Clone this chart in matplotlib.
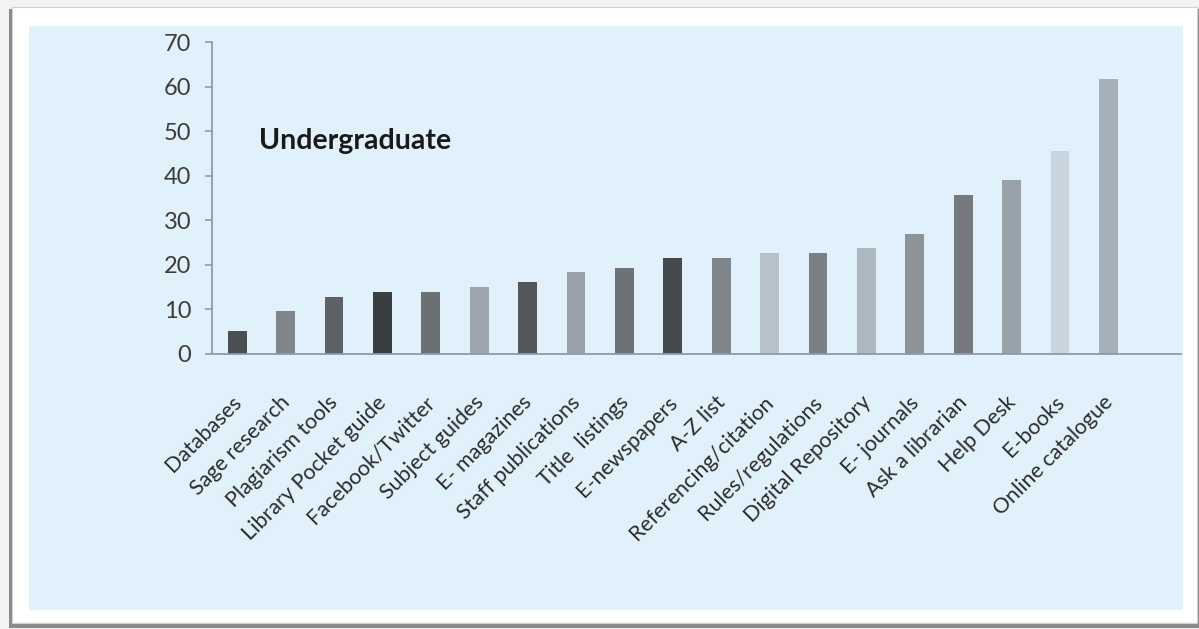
import numpy as np
import matplotlib
matplotlib.use("Agg")
from matplotlib import pyplot as plt
from matplotlib.patches import Rectangle
from matplotlib.transforms import ScaledTranslation

# services and the share of undergraduates using them
categories = ['Databases', 'Sage research', 'Plagiarism tools', 'Library Pocket guide',
              'Facebook/Twitter', 'Subject guides', 'E- magazines', 'Staff publications',
              'Title  listings', 'E-newspapers', 'A-Z list', 'Referencing/citation',
              'Rules/regulations', 'Digital Repository', 'E- journals', 'Ask a librarian',
              'Help Desk', 'E-books', 'Online catalogue']
values = [5.2, 9.7, 12.8, 13.9, 13.9, 15.0, 16.2, 18.5, 19.3, 21.6,
          21.6, 22.7, 22.7, 23.8, 26.9, 35.7, 39.1, 45.7, 61.8]
bar_colors = ['#4b4f52', '#7e858b', '#5e6165', '#3b3e41', '#6c7073', '#9ca5ad',
              '#53575b', '#98a1a9', '#6e7276', '#464a4d', '#7e858b', '#b7c1ca',
              '#7b8087', '#adb7c0', '#8c949a', '#767a7e', '#99a2a9', '#c8d5df', '#a5afb8']
y_ticks = [0, 10, 20, 30, 40, 50, 60, 70]

plt.rcParams['font.family'] = ['Lato', 'DejaVu Sans']

W, H = 1199, 629
fig = plt.figure(figsize=(W / 100, H / 100), dpi=100)
fig.patch.set_facecolor('#f3f3f3')

def px_rect(x0, y0, x1, y1, **kw):
    # rectangle given in pixel coords from the top-left corner
    return Rectangle((x0 / W, 1 - y1 / H), (x1 - x0) / W, (y1 - y0) / H,
                     transform=fig.transFigure, **kw)

# card with a drop shadow, then the light blue chart area (behind the axes)
fig.patches.append(px_rect(9, 9, 1199, 628, facecolor='#8a8a8a', edgecolor='none', zorder=-3))
fig.patches.append(px_rect(12, 7, 1197, 623, facecolor='white', edgecolor='#d0d0d0',
                           linewidth=0.8, zorder=-2))
fig.patches.append(px_rect(29, 26, 1183, 610, facecolor='#e1f1fc', edgecolor='none', zorder=-1))

ax = fig.add_axes([212 / W, 1 - 354 / H, (1181 - 212) / W, (354 - 42.3) / H])
ax.set_facecolor('none')

x = np.arange(len(categories))
ax.bar(x, values, width=0.39, color=bar_colors, edgecolor='none', zorder=2)

ax.set_xlim(-0.52, 19.5)
ax.set_ylim(0, 70)
ax.set_yticks(y_ticks)
ax.set_xticks(x)
ax.set_xticklabels(categories, rotation=45, ha='right', rotation_mode='anchor',
                   fontsize=15.5, color='#2b2b2b')
ax.tick_params(axis='x', length=0, pad=24)
ax.tick_params(axis='y', length=5, width=1.2, color='#8d9ba6', pad=10,
               labelsize=17, labelcolor='#3c3c3c')

# nudge the slanted labels so their ends sit under the bars
shift = ScaledTranslation(-6 / 100, -5 / 100, fig.dpi_scale_trans)
for lab in ax.get_xticklabels():
    lab.set_transform(lab.get_transform() + shift)

for side in ['top', 'right']:
    ax.spines[side].set_visible(False)
for side in ['left', 'bottom']:
    ax.spines[side].set_color('#8d9ba6')
    ax.spines[side].set_linewidth(1.3)

fig.text(259 / W, 1 - 141 / H, 'Undergraduate', fontsize=20.5, fontweight='bold',
         color='#1a1a1a', ha='left', va='center')

fig.savefig('out.png', dpi=100, facecolor=fig.get_facecolor())
